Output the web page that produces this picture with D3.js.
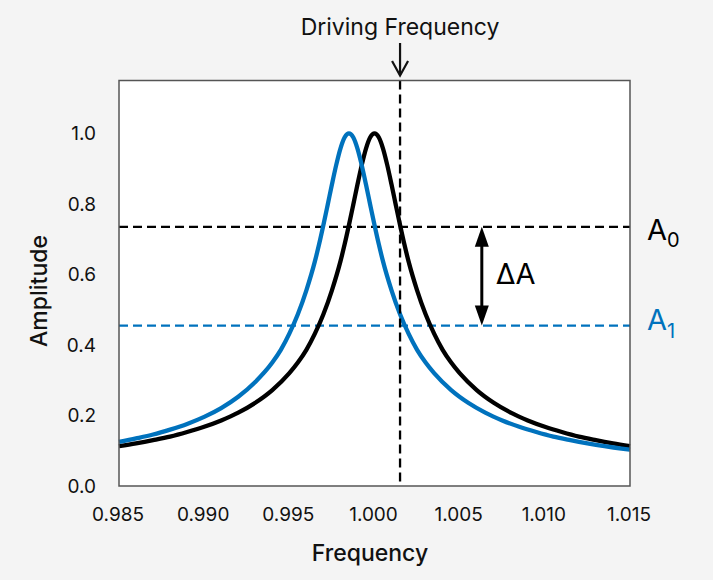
<!DOCTYPE html>
<html>
<head>
<meta charset="utf-8">
<script src="https://cdn.jsdelivr.net/npm/d3@7"></script>
<style>
  html, body { margin: 0; padding: 0; background: #f4f4f4; }
  svg { display: block; font-family: Inter, "Noto Sans", "DejaVu Sans", sans-serif; }
</style>
</head>
<body>
<svg id="chart" width="713" height="580"></svg>
<script>
// ---- data ----
const blackFreq = [0.985, 0.986, 0.987, 0.988, 0.989, 0.990, 0.991, 0.992, 0.993, 0.994, 0.995, 0.9955, 0.996, 0.9965, 0.997, 0.9975, 0.998, 0.99825, 0.9985, 0.99875, 0.999, 0.99925, 0.9995, 0.99975, 1.000, 1.00025, 1.0005, 1.00075, 1.001, 1.00125, 1.0015, 1.00175, 1.002, 1.0025, 1.003, 1.0035, 1.004, 1.0045, 1.005, 1.006, 1.007, 1.008, 1.009, 1.010, 1.011, 1.012, 1.013, 1.014, 1.015];
const blackAmp  = [0.113, 0.121, 0.130, 0.140, 0.153, 0.168, 0.186, 0.208, 0.236, 0.272, 0.320, 0.350, 0.386, 0.432, 0.487, 0.555, 0.637, 0.686, 0.740, 0.797, 0.855, 0.910, 0.957, 0.989, 1.000, 0.989, 0.957, 0.910, 0.855, 0.797, 0.740, 0.686, 0.637, 0.555, 0.487, 0.432, 0.386, 0.350, 0.320, 0.272, 0.236, 0.208, 0.186, 0.168, 0.153, 0.140, 0.130, 0.121, 0.113];

const blueFreq = [0.985, 0.986, 0.987, 0.988, 0.989, 0.990, 0.991, 0.992, 0.993, 0.994, 0.9945, 0.995, 0.9955, 0.996, 0.9965, 0.99675, 0.997, 0.99725, 0.9975, 0.99775, 0.998, 0.99825, 0.9985, 0.99875, 0.999, 0.99925, 0.9995, 0.99975, 1.000, 1.00025, 1.0005, 1.001, 1.0015, 1.002, 1.0025, 1.003, 1.0035, 1.0045, 1.0055, 1.0065, 1.0075, 1.0085, 1.0095, 1.0105, 1.0115, 1.0125, 1.0135, 1.0145, 1.015];
const blueAmp  = [0.125, 0.135, 0.146, 0.160, 0.176, 0.196, 0.221, 0.253, 0.295, 0.350, 0.386, 0.432, 0.487, 0.555, 0.637, 0.686, 0.740, 0.797, 0.855, 0.910, 0.957, 0.989, 1.000, 0.989, 0.957, 0.910, 0.855, 0.797, 0.740, 0.686, 0.637, 0.555, 0.487, 0.432, 0.386, 0.350, 0.320, 0.272, 0.236, 0.208, 0.186, 0.168, 0.153, 0.140, 0.130, 0.121, 0.113, 0.106, 0.103];

const drivingFrequency = 1.0015;
const levelA0 = 0.735;
const levelA1 = 0.455;
const deltaArrowFreq = 1.0063;

const xTicks = [0.985, 0.990, 0.995, 1.000, 1.005, 1.010, 1.015];
const yTicks = [0.0, 0.2, 0.4, 0.6, 0.8, 1.0];
const xDomain = [0.985, 1.015];
const yDomain = [0, 1.15];

// ---- layout ----
const svg = d3.select("#chart");
const L = 119, R = 630, T = 80.5, B = 486;
const BLUE = "#0072BD";

const x = d3.scaleLinear().domain(xDomain).range([L, R]);
const y = d3.scaleLinear().domain(yDomain).range([B, T]);

// plot background
svg.append("rect").attr("x", L).attr("y", T).attr("width", R - L).attr("height", B - T)
  .attr("fill", "#ffffff");

// axes (labels only)
const xAxis = svg.append("g").attr("transform", `translate(0,${B})`)
  .call(d3.axisBottom(x).tickValues(xTicks).tickFormat(d3.format(".3f")).tickSize(0).tickPadding(22));
const yAxis = svg.append("g").attr("transform", `translate(${L},0)`)
  .call(d3.axisLeft(y).tickValues(yTicks).tickFormat(d3.format(".1f")).tickSize(0).tickPadding(23));
[xAxis, yAxis].forEach(g => {
  g.select(".domain").remove();
  g.selectAll("text").attr("font-size", 19).attr("fill", "#111")
    .attr("font-family", "Inter, 'Noto Sans', sans-serif");
});
xAxis.selectAll("text").attr("dx", -1.5);

// reference lines
const dash = "9,5";
svg.append("line").attr("x1", L).attr("x2", R).attr("y1", y(levelA0)).attr("y2", y(levelA0))
  .attr("stroke", "#000").attr("stroke-width", 2.3).attr("stroke-dasharray", dash);
svg.append("line").attr("x1", L).attr("x2", R).attr("y1", y(levelA1)).attr("y2", y(levelA1))
  .attr("stroke", BLUE).attr("stroke-width", 2.3).attr("stroke-dasharray", dash);

// curves
const line = d3.line().x(d => x(d[0])).y(d => y(d[1])).curve(d3.curveMonotoneX);
svg.append("path").datum(d3.zip(blackFreq, blackAmp)).attr("d", line)
  .attr("fill", "none").attr("stroke", "#000").attr("stroke-width", 4.3).attr("stroke-linejoin", "round");
svg.append("path").datum(d3.zip(blueFreq, blueAmp)).attr("d", line)
  .attr("fill", "none").attr("stroke", BLUE).attr("stroke-width", 4.3).attr("stroke-linejoin", "round");

// driving frequency vertical line
const xd = x(drivingFrequency);
svg.append("line").attr("x1", xd).attr("x2", xd).attr("y1", T).attr("y2", B)
  .attr("stroke", "#000").attr("stroke-width", 2.3).attr("stroke-dasharray", dash);

// frame
svg.append("rect").attr("x", L).attr("y", T).attr("width", R - L).attr("height", B - T)
  .attr("fill", "none").attr("stroke", "#555").attr("stroke-width", 1.5);

// Driving frequency label + arrow
svg.append("text").attr("x", xd).attr("y", 35).attr("text-anchor", "middle")
  .attr("font-size", 23).attr("fill", "#111").text("Driving Frequency");
svg.append("line").attr("x1", xd).attr("x2", xd).attr("y1", 43).attr("y2", 75)
  .attr("stroke", "#111").attr("stroke-width", 2.2);
svg.append("polyline").attr("points", `${xd - 8},${61} ${xd},${75.5} ${xd + 8},${61}`)
  .attr("fill", "none").attr("stroke", "#111").attr("stroke-width", 2.2);

// Delta A double arrow
const xa = x(deltaArrowFreq), ya0 = y(levelA0), ya1 = y(levelA1);
const headL = 20, headW = 7;
svg.append("line").attr("x1", xa).attr("x2", xa).attr("y1", ya0 + headL - 2).attr("y2", ya1 - headL + 2)
  .attr("stroke", "#000").attr("stroke-width", 3);
svg.append("path").attr("d", `M${xa},${ya0} L${xa - headW},${ya0 + headL} L${xa + headW},${ya0 + headL} Z`).attr("fill", "#000");
svg.append("path").attr("d", `M${xa},${ya1} L${xa - headW},${ya1 - headL} L${xa + headW},${ya1 - headL} Z`).attr("fill", "#000");
svg.append("text").attr("x", xa + 14).attr("y", 283.5).attr("font-size", 29).attr("fill", "#000").text("ΔA");

// A0 / A1 labels
const a0 = svg.append("text").attr("x", 647).attr("y", 240).attr("font-size", 29).attr("fill", "#000");
a0.append("tspan").text("A");
a0.append("tspan").attr("font-size", 20).attr("dy", 7).text("0");
const a1 = svg.append("text").attr("x", 647).attr("y", 330).attr("font-size", 29).attr("fill", BLUE);
a1.append("tspan").text("A");
a1.append("tspan").attr("font-size", 20).attr("dy", 8).text("1");

// axis titles
svg.append("text").attr("x", 370).attr("y", 561).attr("text-anchor", "middle")
  .attr("font-size", 23).attr("font-weight", 500).attr("fill", "#111").text("Frequency");
svg.append("text").attr("transform", `translate(47,${291}) rotate(-90)`).attr("text-anchor", "middle")
  .attr("font-size", 23).attr("font-weight", 500).attr("fill", "#111").text("Amplitude");
</script>
</body>
</html>
